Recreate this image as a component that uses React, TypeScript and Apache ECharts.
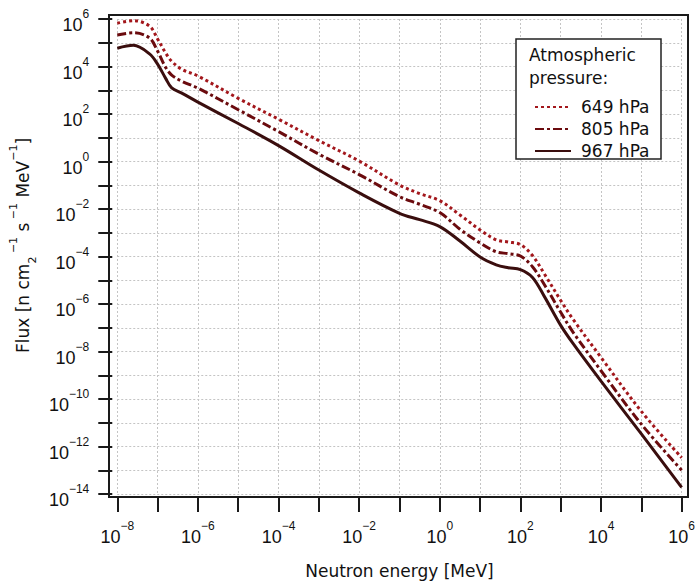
import React, { useEffect, useRef } from 'react';
import * as echarts from 'echarts';

// log10 of neutron energy [MeV]
const energyExp = [-8, -7.6, -7.2, -7.0, -6.8, -6.65, -6.4, -6.0, -5, -4, -3, -2, -1, -0.5, 0, 0.5, 1.0, 1.4, 1.7, 2.0, 2.3, 2.6, 3.0, 3.3, 4, 5, 6];
// log10 of flux [n cm^-2 s^-1 MeV^-1]
const flux649Exp = [5.82, 5.93, 5.70, 5.16, 4.57, 4.22, 3.88, 3.60, 2.66, 1.78, 0.88, 0.02, -0.99, -1.35, -1.65, -2.25, -2.88, -3.30, -3.39, -3.50, -3.96, -4.75, -5.85, -6.63, -8.25, -10.52, -12.47];
const flux805Exp = [5.33, 5.42, 5.20, 4.65, 3.96, 3.64, 3.38, 3.09, 2.18, 1.26, 0.31, -0.55, -1.48, -1.80, -2.15, -2.85, -3.43, -3.80, -3.88, -3.98, -4.43, -5.20, -6.35, -7.17, -8.81, -11.06, -13.0];
const flux967Exp = [4.77, 4.89, 4.53, 4.10, 3.50, 3.10, 2.88, 2.50, 1.60, 0.67, -0.36, -1.32, -2.18, -2.45, -2.74, -3.35, -4.02, -4.35, -4.47, -4.55, -4.88, -5.70, -6.90, -7.65, -9.25, -11.47, -13.72];

const seriesNames = ['649 hPa', '805 hPa', '967 hPa'];
const seriesColors = ['#a3171c', '#6b0b0e', '#3a0e0e'];
const seriesDash: any[] = [[3, 3], [9, 3, 3, 3], 'solid'];

const legendTitle = ['Atmospheric', 'pressure:'];
const xName = 'Neutron energy [MeV]';

const X_MIN = -8, X_MAX = 6, Y_MIN = -14, Y_MAX = 6;

const TEXT_FONT = 'DejaVu Sans';
const TICK_FONT = 'Liberation Sans';

function powLabel(v: number): string {
  const n = Math.round(v);
  if (Math.abs(v - n) > 1e-6) return '';
  if (n % 2 !== 0) return '';
  const s = n < 0 ? '\u2212' + Math.abs(n) : String(n);
  return `{b|10}{s|${s}}`;
}

const tickRich = {
  b: { fontFamily: TICK_FONT, fontSize: 18, color: '#111', verticalAlign: 'bottom', lineHeight: 26 },
  s: { fontFamily: TICK_FONT, fontSize: 12, color: '#111', verticalAlign: 'top', lineHeight: 10 },
};

export default function App() {
  const ref = useRef<HTMLDivElement>(null);
  useEffect(() => {
    document.body.style.margin = '0';
    if (!ref.current) return;
    const chart = echarts.init(ref.current, undefined, { renderer: 'svg' });
    const fluxes = [flux649Exp, flux805Exp, flux967Exp];
    const option: any = {
      animation: false,
      backgroundColor: '#fff',
      grid: { left: 114, top: 19, width: 570, height: 475 },
      xAxis: {
        type: 'value', min: X_MIN, max: X_MAX, interval: 1, offset: 3,
        axisLine: { show: false, onZero: false },
        axisTick: { show: true, length: 15, lineStyle: { color: '#1a1a1a', width: 2 } },
        axisLabel: { formatter: powLabel, margin: 23, rich: tickRich },
        splitLine: { show: true, lineStyle: { type: [2, 2], color: '#c4c4c4', width: 1 } },
        name: xName, nameLocation: 'middle', nameGap: 65,
        nameTextStyle: { fontFamily: TEXT_FONT, fontSize: 17, color: '#111' },
      },
      yAxis: {
        type: 'value', min: Y_MIN, max: Y_MAX, interval: 1, offset: 5,
        axisLine: { show: false, onZero: false },
        axisTick: { show: true, length: 14, lineStyle: { color: '#1a1a1a', width: 2 } },
        axisLabel: { formatter: powLabel, margin: 23, rich: tickRich, padding: [4, 0, 0, 0] },
        splitLine: { show: true, lineStyle: { type: [2, 2], color: '#c4c4c4', width: 1 } },
        name: 'Flux [n cm{sub|2}{sup| \u22121} s{sup| \u22121} MeV{sup|\u22121}]',
        nameLocation: 'middle', nameGap: 72, nameRotate: 90,
        nameTextStyle: {
          fontFamily: TEXT_FONT, fontSize: 17, color: '#111', lineHeight: 30, padding: [0, 0, 0, 22],
          rich: {
            sub: { fontFamily: TEXT_FONT, fontSize: 11, color: '#111', verticalAlign: 'bottom', lineHeight: 14 },
            sup: { fontFamily: TEXT_FONT, fontSize: 11, color: '#111', verticalAlign: 'top', lineHeight: 14 },
          },
        },
      },
      legend: {
        data: seriesNames, orient: 'vertical', left: 529, top: 92,
        itemWidth: 36, itemHeight: 14, itemGap: 2,
        itemStyle: { opacity: 0 },
        textStyle: { fontFamily: TEXT_FONT, fontSize: 17, color: '#111', lineHeight: 20, padding: [0, 0, 0, 5] },
      },
      graphic: [
        { type: 'rect', z: 3, shape: { x: 516, y: 39, width: 145, height: 120 }, style: { fill: '#fff', stroke: '#222', lineWidth: 1.5 } },
        { type: 'text', z: 5, x: 529, y: 55, style: { text: legendTitle[0], font: `17px "${TEXT_FONT}"`, fill: '#111', verticalAlign: 'middle' } },
        { type: 'text', z: 5, x: 529, y: 78, style: { text: legendTitle[1], font: `17px "${TEXT_FONT}"`, fill: '#111', verticalAlign: 'middle' } },
        { type: 'rect', z: 6, shape: { x: 109, y: 15, width: 579, height: 482 }, style: { fill: 'none', stroke: '#1a1a1a', lineWidth: 2 } },
      ],
      series: seriesNames.map((name, k) => ({
        name, type: 'line', symbol: 'none', showSymbol: false,
        smooth: 0.35,
        lineStyle: { color: seriesColors[k], width: 3, type: seriesDash[k], cap: 'butt' },
        itemStyle: { color: seriesColors[k] },
        data: energyExp.map((x, i) => [x, fluxes[k][i]]),
      })),
    };
    chart.setOption(option);
    return () => chart.dispose();
  }, []);
  return <div ref={ref} style={{ width: 698, height: 587 }} />;
}
